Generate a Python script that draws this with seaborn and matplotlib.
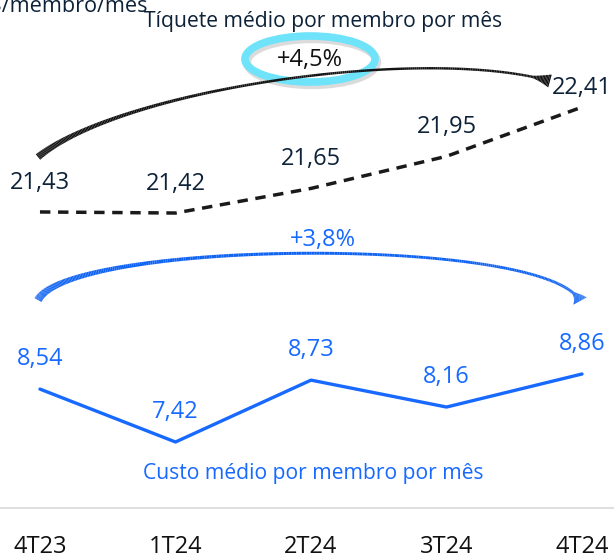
import numpy as np
import pandas as pd
import matplotlib
matplotlib.use('Agg')
import matplotlib.pyplot as plt
from matplotlib.collections import LineCollection
from matplotlib.patches import Ellipse
import seaborn as sns

# dados do gráfico
trimestres = ['4T23', '1T24', '2T24', '3T24', '4T24']
tiquete = [21.43, 21.42, 21.65, 21.95, 22.41]
custo = [8.54, 7.42, 8.73, 8.16, 8.86]
var_tiquete = '+4,5%'
var_custo = '+3,8%'
titulo_tiquete = 'Tíquete médio por membro por mês'
titulo_custo = 'Custo médio por membro por mês'
unidade = 'R$/membro/mês'

NAVY = '#0d2238'
BLUE = '#1769ff'
CYAN = '#6fe3fa'

sns.set_theme(style='white')
plt.rcParams['font.family'] = ['Open Sans', 'DejaVu Sans']

W, H = 614, 558
fig = plt.figure(figsize=(W / 100, H / 100), dpi=100)
ax = fig.add_axes([0, 50 / H, 1, 508 / H])
ax2 = ax.twinx()


def px(x, y):
    # pixel (a partir do topo esquerdo) -> fração da figura
    return x / W, 1 - y / H


def fmt(v):
    return f'{v:.2f}'.replace('.', ',')


df = pd.DataFrame({'trimestre': trimestres, 'tiquete': tiquete, 'custo': custo})

sns.lineplot(data=df, x='trimestre', y='tiquete', ax=ax, color='#1a1a1a',
             lw=2.5, linestyle=(0, (3, 2.2)), sort=False)
sns.lineplot(data=df, x='trimestre', y='custo', ax=ax2, color=BLUE,
             lw=2.4, sort=False)

ax.set_xlim(-0.295, 4.236)
ax.set_ylim(18.663, 23.411)
ax2.set_ylim(6.022, 16.78)

for a in (ax, ax2):
    a.set_yticks([])
    a.set_ylabel('')
    for s in ('top', 'left', 'right'):
        a.spines[s].set_visible(False)
ax2.spines['bottom'].set_visible(False)
ax.spines['bottom'].set_color('#d9d9d9')
ax.spines['bottom'].set_linewidth(1.2)
ax.set_xlabel('')
ax.set_xticks(range(len(trimestres)))
ax.set_xticklabels(trimestres, fontsize=17, color='#111111')
ax.tick_params(axis='x', length=0, pad=19.5)

# rótulos dos valores
off_t = [29, 29, 29, 29, 19]
for i, v in enumerate(tiquete):
    ax.annotate(fmt(v), (i, v), xytext=(0, off_t[i] * 0.72), textcoords='offset points',
                ha='center', va='center', fontsize=17, color=NAVY)
for i, v in enumerate(custo):
    ax2.annotate(fmt(v), (i, v), xytext=(0, 30 * 0.72), textcoords='offset points',
                 ha='center', va='center', fontsize=17, color=BLUE)


def brush(ctrl, w0, wm, w1, color, head=0.045, n=300):
    P = np.array(ctrl, float)
    t = np.linspace(0, 1, n)[:, None]
    pts = ((1 - t) ** 3) * P[0] + 3 * ((1 - t) ** 2) * t * P[1] \
        + 3 * (1 - t) * t ** 2 * P[2] + t ** 3 * P[3]
    xy = np.column_stack([pts[:, 0] / W, 1 - pts[:, 1] / H])
    seg = np.stack([xy[:-1], xy[1:]], axis=1)
    tm = t[:-1, 0]
    w = wm + (w0 - wm) * (1 - tm) ** 5 + (w1 - wm) * np.clip((tm - (1 - head)) / head, 0, 1) ** 1.3
    lc = LineCollection(seg, linewidths=w * 0.72, colors=color,
                        transform=fig.transFigure, capstyle='butt')
    fig.add_artist(lc)


# setas de variação
brush([(38, 157), (120, 90), (420, 45), (550, 81)], 7, 2.4, 14, '#111111')
brush([(38, 300), (70, 240), (545, 235), (580, 301)], 8, 2.8, 16, '#0f63f2')

# anel em volta do +4,5%
shadow = Ellipse(px(312, 62), 130 / W, 46 / H, transform=fig.transFigure, fill=False,
                 ec='#8a8a8a', lw=6, alpha=0.3)
fig.add_artist(shadow)
ring = Ellipse(px(310, 59), 130 / W, 46 / H, transform=fig.transFigure, fill=False,
               ec=CYAN, lw=5.5)
fig.add_artist(ring)

fig.text(*px(310, 60), var_tiquete, ha='center', va='center', fontsize=17, color='#111111')
fig.text(*px(323, 240), var_custo, ha='center', va='center', fontsize=17, color=BLUE)
fig.text(*px(323, 22), titulo_tiquete, ha='center', va='center', fontsize=15.2, color=NAVY)
fig.text(*px(313, 473), titulo_custo, ha='center', va='center', fontsize=15.2, color=BLUE)
fig.text(*px(148, 12), unidade, ha='right', va='baseline', fontsize=15.6, color=NAVY)

fig.savefig('out.png', dpi=100)
